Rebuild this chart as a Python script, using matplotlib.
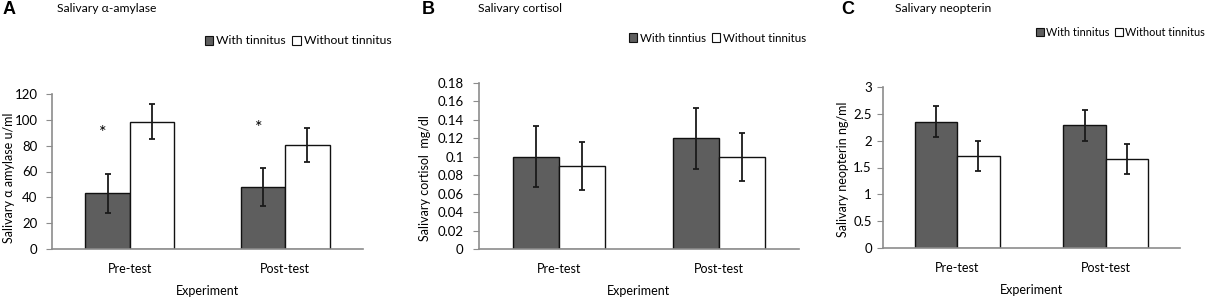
import matplotlib

matplotlib.use("Agg")
import matplotlib.pyplot as plt
from matplotlib.patches import Patch
from matplotlib.ticker import FuncFormatter

plt.rcParams["font.family"] = ["Lato", "DejaVu Sans"]

categories = ["Pre-test", "Post-test"]
series_names = ["With tinnitus", "Without tinnitus"]

# panel A: salivary alpha-amylase (u/ml)
amylase_with = [43, 48]
amylase_with_err = [15, 14.5]
amylase_without = [98.5, 80.5]
amylase_without_err = [13.5, 13.5]
amylase_star_y = [90, 94]

# panel B: salivary cortisol (mg/dl)
cortisol_with = [0.10, 0.12]
cortisol_with_err = [0.033, 0.033]
cortisol_without = [0.09, 0.10]
cortisol_without_err = [0.026, 0.026]

# panel C: salivary neopterin (ng/ml)
neopterin_with = [2.35, 2.29]
neopterin_with_err = [0.29, 0.29]
neopterin_without = [1.71, 1.66]
neopterin_without_err = [0.28, 0.28]

DARK = "#5e5e5e"
AXIS_GREY = "#8c8c8c"
W = 1205
H = 298

fig = plt.figure(figsize=(12.05, 2.98), dpi=100)


def px(x, y):
    return x / W, 1 - y / H


def draw_panel(rect, with_vals, with_err, without_vals, without_err, ymax, ystep,
               ylabel, label_xy, tick_pad):
    ax = fig.add_axes(rect)
    xs = list(range(len(categories)))
    bw = 0.285
    err_kw = dict(ecolor="#1a1a1a", elinewidth=1.3, capsize=2.5, capthick=1.3)
    ax.bar([x - bw / 2 for x in xs], with_vals, bw, color=DARK, edgecolor="#111111",
           linewidth=1.0, yerr=with_err, error_kw=err_kw, zorder=2)
    ax.bar([x + bw / 2 for x in xs], without_vals, bw, color="white", edgecolor="#111111",
           linewidth=1.0, yerr=without_err, error_kw=err_kw, zorder=2)
    ax.set_xlim(-0.5, len(categories) - 0.5)
    ax.set_ylim(0, ymax)
    n = int(round(ymax / ystep))
    ax.set_yticks([i * ystep for i in range(n + 1)])
    ax.yaxis.set_major_formatter(FuncFormatter(lambda v, _: f"{round(v, 6):g}"))
    ax.set_xticks(xs)
    ax.set_xticklabels(categories, fontsize=9)
    ax.tick_params(axis="x", length=0, pad=10)
    ax.tick_params(axis="y", length=4, color=AXIS_GREY, labelsize=9.5, pad=tick_pad)
    for side in ["top", "right"]:
        ax.spines[side].set_visible(False)
    for side in ["left", "bottom"]:
        ax.spines[side].set_color(AXIS_GREY)
        ax.spines[side].set_linewidth(1.2)
    ax.set_ylabel(ylabel, fontsize=9)
    ax.yaxis.set_label_coords(*label_xy)
    ax.set_xlabel("Experiment", fontsize=9, labelpad=7)
    return ax


ax_a = draw_panel([52 / W, 1 - 249 / H, 311 / W, 155 / H], amylase_with, amylase_with_err,
                  amylase_without, amylase_without_err, 120, 20,
                  "Salivary \u03b1 amylase u/ml", (-37 / 311, 0.46), 6.5)
for i, sy in enumerate(amylase_star_y):
    ax_a.text(i - 0.285 / 2 - 0.03, sy, "*", ha="center", va="center", fontsize=13)

ax_b = draw_panel([479 / W, 1 - 249 / H, 320 / W, 166 / H], cortisol_with, cortisol_with_err,
                  cortisol_without, cortisol_without_err, 0.18, 0.02,
                  "Salivary cortisol  mg/dl", (-48 / 320, 0.43), 7)

ax_c = draw_panel([883 / W, 1 - 248 / H, 297 / W, 161 / H], neopterin_with, neopterin_with_err,
                  neopterin_without, neopterin_without_err, 3, 0.5,
                  "Salivary neopterin ng/ml", (-34 / 297, 0.49), 4)

panel_info = [
    ("A", 3, 57, "Salivary \u03b1-amylase", 205, 41, series_names, 8.7),
    ("B", 422, 478, "Salivary cortisol", 629, 38, ["With tinntius", "Without tinnitus"], 8.3),
    ("C", 841, 895, "Salivary neopterin", 1036, 32, series_names, 7.8),
]
for letter, lx, tx, title, legx, legy, names, legsize in panel_info:
    fig.text(*px(lx, 10), letter, fontsize=13, fontweight="bold",
             family=["Liberation Sans", "DejaVu Sans"], va="center", ha="left")
    fig.text(*px(tx, 9), title, fontsize=8.7, va="center", ha="left")
    handles = [Patch(facecolor=DARK, edgecolor="#111111", linewidth=0.8),
               Patch(facecolor="white", edgecolor="#111111", linewidth=0.8)]
    fig.legend(handles, names, loc="center left", bbox_to_anchor=px(legx, legy), ncol=2,
               frameon=False, fontsize=legsize, handlelength=0.7, handleheight=0.7,
               handletextpad=0.25, columnspacing=0.5, borderpad=0, borderaxespad=0)

fig.savefig("out.png", dpi=100)
